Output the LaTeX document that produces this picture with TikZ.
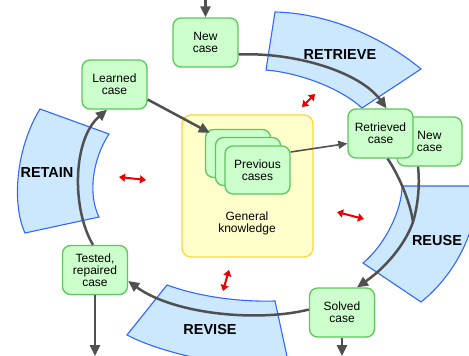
\documentclass[tikz,border=0pt]{standalone}
\usepackage{fontspec}
\setmainfont{Liberation Sans}
\usetikzlibrary{arrows.meta}
\definecolor{casefill}{RGB}{204,255,204}
\definecolor{casedraw}{RGB}{90,200,90}
\definecolor{kbfill}{RGB}{255,255,204}
\definecolor{kbdraw}{RGB}{255,214,51}
\definecolor{phasefill}{RGB}{204,232,255}
\definecolor{phasedraw}{RGB}{51,102,255}
\definecolor{flowcol}{RGB}{80,80,80}
\definecolor{linkcol}{RGB}{235,0,0}
\newcommand{\boxfont}{\fontsize{12}{12}\selectfont}
\newcommand{\phasefont}{\fontsize{14.5}{16}\selectfont\bfseries}

\tikzset{
  case/.style={draw=casedraw, fill=casefill, line width=1.3pt, rounded corners=8pt,
    minimum width=65pt, minimum height=49pt, inner sep=0pt, align=center, font=\boxfont},
  kb/.style={draw=kbdraw, fill=kbfill, line width=1.3pt, rounded corners=9pt,
    minimum width=131pt, minimum height=142pt},
  phase/.style={draw=phasedraw, fill=phasefill, line width=1.1pt},
  phaselabel/.style={font=\phasefont},
  flowline/.style={draw=flowcol, line width=2.5pt},
  flow/.style={flowline, -{Triangle[length=11pt,width=10pt]}},
  thinflow/.style={draw=flowcol, line width=1.6pt, -{Triangle[length=9pt,width=8pt]}},
  link/.style={draw=linkcol, line width=2pt,
    {Triangle[length=6pt,width=8pt]}-{Triangle[length=6pt,width=8pt]}},
}

\begin{document}
\begin{tikzpicture}[x=1pt, y=-1pt]
  \useasboundingbox (0,0) rectangle (469,356);
  \clip (0,0) rectangle (469,356);

  \draw[phase] (266,70) -- (275,12) .. controls (325,13) and (380,35) .. (421,69)
    -- (362,108) .. controls (340,88) and (300,73) .. (266,70) -- cycle;
  \draw[phase] (402,186) -- (478,186) .. controls (478,230) and (455,275) .. (421,302)
    -- (363,263) .. controls (385,245) and (402,210) .. (402,186) -- cycle;
  \draw[phase] (40,109) -- (109,134) .. controls (92,160) and (88,195) .. (99,217)
    -- (25,233) .. controls (12,205) and (15,150) .. (40,109) -- cycle;
  \draw[phase] (167,285) .. controls (200,297) and (240,302) .. (275,301)
    -- (290,370) -- (215,362) .. controls (180,355) and (150,347) .. (127,335) -- cycle;

  \node[kb] (kb) at (247.5,186) {};
  \node[align=center, font=\boxfont] (kbtext) at (247,223) {General\\knowledge};

  \node[case] (newtop) at (205.5,42.5) {New\\case};
  \node[case] (learned) at (114.5,84.5) {Learned\\case};
  \node[case] (newright) at (429.5,141.5) {New\\case};
  \node[case] (retrieved) at (380.5,133.5) {Retrieved\\case};
  \node[case, minimum height=48pt] (prev1) at (238,153.5) {};
  \node[case, minimum height=48pt] (prev2) at (248,161.5) {};
  \node[case, minimum height=48pt] (prev3) at (257.5,170) {Previous\\cases};
  \node[case] (tested) at (95,270) {Tested,\\repaired\\case};
  \node[case] (solved) at (342,312.5) {Solved\\case};

  \coordinate (in) at (205.5,0);
  \coordinate (merge) at (413,222);
  \coordinate (out1) at (95,356);
  \coordinate (out2) at (342,356);

  \draw[flow] (in) -- (newtop.north);
  \draw[flow] ([yshift=-12pt]newtop.east) .. controls (295,52) and (360,72)
    .. ([xshift=6pt]retrieved.north);
  \draw[flow] ([yshift=-15pt]learned.east) -- ([shift={(5pt,-4pt)}]prev1.north west);
  \draw[thinflow] ([yshift=18pt]prev3.east) -- ([yshift=-10pt]retrieved.west);
  \draw[flowline] ([xshift=7pt]retrieved.south) .. controls (397,172) and (410,200) .. (merge);
  \draw[flow] ([xshift=-11.5pt]newright.south) .. controls (420,185) and (418,205) .. (merge)
    .. controls (405,245) and (385,268) .. ([xshift=15pt]solved.north);
  \draw[flow] ([yshift=3pt]solved.west) .. controls (260,322) and (175,315)
    .. ([yshift=-11pt]tested.east);
  \draw[flow] ([xshift=-2pt]tested.north) .. controls (72,210) and (72,140)
    .. ([xshift=-7.5pt]learned.south);
  \draw[flow] (tested.south) -- (out1);
  \draw[flow] (solved.south) -- (out2);

  \coordinate (l1a) at (302,107);
  \coordinate (l1b) at (315,94);
  \coordinate (l2a) at (119,177);
  \coordinate (l2b) at (146,180);
  \coordinate (l3a) at (337,212);
  \coordinate (l3b) at (364,219);
  \coordinate (l4a) at (229,270);
  \coordinate (l4b) at (223,291);
  \draw[link] (l1a) -- (l1b);
  \draw[link] (l2a) -- (l2b);
  \draw[link] (l3a) -- (l3b);
  \draw[link] (l4a) -- (l4b);

  \node[phaselabel] (retrieve) at (340,55) {RETRIEVE};
  \node[phaselabel] (reuse) at (437,241) {REUSE};
  \node[phaselabel] (retain) at (47,173) {RETAIN};
  \node[phaselabel] (revise) at (210,330) {REVISE};
\end{tikzpicture}
\end{document}
